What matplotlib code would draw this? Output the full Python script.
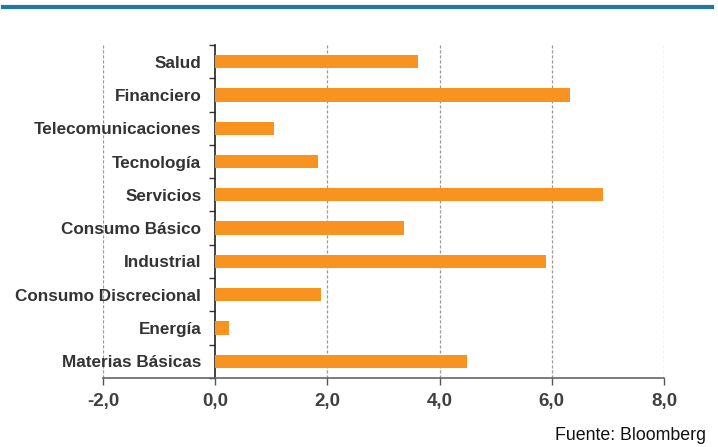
import matplotlib
matplotlib.use("Agg")
import matplotlib.pyplot as plt
import numpy as np

categories = ["Materias Básicas", "Energía", "Consumo Discrecional", "Industrial",
              "Consumo Básico", "Servicios", "Tecnología", "Telecomunicaciones",
              "Financiero", "Salud"]
values = [4.48, 0.24, 1.88, 5.89, 3.36, 6.92, 1.84, 1.04, 6.32, 3.62]
xticks = [-2, 0, 2, 4, 6, 8]
xticklabels = ["-2,0", "0,0", "2,0", "4,0", "6,0", "8,0"]

plt.rcParams['font.family'] = ['Liberation Sans', 'DejaVu Sans']

fig = plt.figure(figsize=(7.18, 4.47), dpi=100)
ax = fig.add_axes([0.1435, 0.1544, 0.7813, 0.745])

y = np.arange(len(categories))
ax.barh(y, values, height=0.4, color='#F7931E', zorder=3)

ax.set_xlim(-2, 8)
ax.set_ylim(-0.5, len(categories) - 0.5)

ax.spines['left'].set_position(('data', 0))
ax.spines['left'].set_color('#222222')
ax.spines['left'].set_linewidth(1.2)
ax.spines['bottom'].set_color('#666666')
ax.spines['bottom'].set_linewidth(1.2)
ax.spines['top'].set_visible(False)
ax.spines['right'].set_visible(False)

ax.tick_params(axis='y', which='major', length=0, pad=10)
ax.tick_params(axis='y', which='minor', length=4, width=1, color='#333333', direction='out')
ax.tick_params(axis='x', which='major', length=5, width=1, color='#555555', direction='out', pad=6)

ax.set_xticks(xticks)
ax.set_xticklabels(xticklabels, fontsize=13.5, fontweight='bold', color='#404040')
for xv in [-2, 2, 4, 6, 8]:
    ax.axvline(xv, color='#999999', linestyle=(0, (2.5, 1.5)), linewidth=0.9, zorder=1)

ax.set_yticks(np.arange(-0.5, len(categories), 1.0), minor=True)
ax.set_yticks(y)
ax.set_yticklabels(categories, fontsize=12.3, fontweight='bold', color='#333333')
for lbl in ax.get_yticklabels():
    lbl.set_fontweight('bold')

# top blue rule
fig.add_artist(plt.Line2D([0.004, 0.992], [0.985, 0.985], color='#1F78A6', linewidth=3,
                          transform=fig.transFigure))

fig.text(0.983, 0.006, "Fuente: Bloomberg", ha='right', va='bottom', fontsize=12.8, color='#111111')

fig.savefig("out.png", dpi=100)
